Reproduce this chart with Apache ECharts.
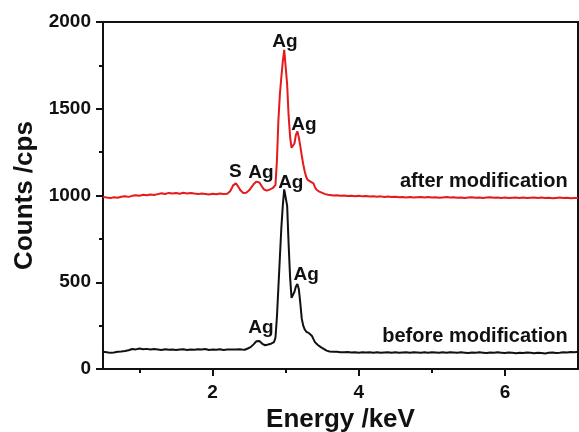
<!DOCTYPE html>
<html>
<head>
<meta charset="utf-8">
<script src="https://cdn.jsdelivr.net/npm/echarts@6/dist/echarts.min.js"></script>
<style>
  html, body { margin: 0; padding: 0; background: #fff; }
  #chart { width: 579px; height: 432px; }
</style>
</head>
<body>
<div id="chart"></div>
<script>
// energy axis samples (keV)
const energy = [
  0.50, 0.55, 0.60, 0.65, 0.70, 0.75, 0.80, 0.85, 0.90, 0.95,
  1.00, 1.05, 1.10, 1.15, 1.20, 1.25, 1.30, 1.35, 1.40, 1.45,
  1.50, 1.55, 1.60, 1.65, 1.70, 1.75, 1.80, 1.85, 1.90, 1.95,
  2.00, 2.05, 2.10, 2.15,
  2.20, 2.22, 2.24, 2.26, 2.28, 2.30, 2.32, 2.34, 2.36, 2.38,
  2.40, 2.42, 2.44, 2.46, 2.48, 2.50, 2.52, 2.54, 2.56, 2.58,
  2.60, 2.62, 2.64, 2.66, 2.68, 2.70, 2.72, 2.74, 2.76, 2.78,
  2.80, 2.82, 2.84, 2.86, 2.88, 2.90, 2.92, 2.94, 2.96, 2.98,
  3.00, 3.02, 3.04, 3.06, 3.08, 3.10, 3.12, 3.14, 3.16, 3.18,
  3.20, 3.22, 3.24, 3.26, 3.28, 3.30, 3.32, 3.34, 3.36, 3.38,
  3.40, 3.42, 3.44, 3.46, 3.48, 3.50, 3.52, 3.54, 3.56, 3.58,
  3.60, 3.65, 3.70, 3.75, 3.80, 3.85, 3.90, 3.95,
  4.00, 4.05, 4.10, 4.15, 4.20, 4.25, 4.30, 4.35, 4.40, 4.45,
  4.50, 4.55, 4.60, 4.65, 4.70, 4.75, 4.80, 4.85, 4.90, 4.95,
  5.00, 5.05, 5.10, 5.15, 5.20, 5.25, 5.30, 5.35, 5.40, 5.45,
  5.50, 5.55, 5.60, 5.65, 5.70, 5.75, 5.80, 5.85, 5.90, 5.95,
  6.00, 6.05, 6.10, 6.15, 6.20, 6.25, 6.30, 6.35, 6.40, 6.45,
  6.50, 6.55, 6.60, 6.65, 6.70, 6.75, 6.80, 6.85, 6.90, 6.95,
  7.00
]

// counts before modification (black)
const beforeCounts = [
  100, 97, 93, 95, 99, 101, 104, 108, 115, 113,
  118, 114, 116, 112, 115, 113, 110, 114, 111, 113,
  109, 112, 114, 110, 113, 111, 114, 112, 115, 110,
  113, 111, 114, 110,
  112, 109, 113, 110, 112, 109, 113, 111, 114, 110,
  112, 115, 111, 114, 118, 121, 126, 133, 142, 152,
  160, 164, 161, 153, 145, 140, 137, 138, 141, 143,
  146, 148, 155, 180, 300, 470, 640, 810, 940, 1035,
  1040, 940, 720, 530, 410, 415, 445, 475, 490, 460,
  380, 290, 250, 228, 216, 210, 206, 202, 190, 172,
  155, 145, 138, 132, 126, 121, 116, 112, 106, 102,
  101, 99, 100, 97, 96, 98, 95, 97,
  94, 96, 95, 97, 94, 96, 93, 95, 97, 94,
  96, 93, 95, 97, 94, 96, 95, 93, 96, 94,
  97, 95, 93, 96, 94, 97, 95, 93, 96, 94,
  92, 95, 93, 96, 94, 92, 95, 93, 96, 94,
  92, 95, 93, 91, 94, 92, 95, 93, 91, 94,
  92, 90, 93, 95, 92, 94, 97, 95, 98, 96,
  99
]

// counts after modification (red)
const afterCounts = [
  992, 988, 985, 990, 987, 993, 996, 992, 998, 1002,
  999, 1004, 1001, 1006, 1003, 1008, 1013, 1009, 1015, 1011,
  1014, 1010, 1016, 1012, 1015, 1011, 1008, 1012, 1009, 1006,
  1010, 1007, 1011, 1009,
  1010, 1015, 1025, 1040, 1058, 1068, 1070, 1060, 1045, 1030,
  1020, 1015, 1013, 1016, 1022, 1030, 1040, 1052, 1065, 1074,
  1080, 1081, 1075, 1062, 1048, 1036, 1030, 1028, 1030, 1034,
  1038, 1042, 1045, 1060, 1200, 1430, 1580, 1680, 1770, 1840,
  1845, 1640, 1460, 1340, 1275, 1265, 1300, 1350, 1370, 1335,
  1285, 1230, 1180, 1140, 1108, 1090, 1082, 1080, 1080, 1070,
  1048, 1035, 1028, 1022, 1018, 1015, 1012, 1008, 1006, 1004,
  1003, 1000, 1002, 998, 1000, 997, 999, 996,
  998, 995, 997, 994, 996, 993, 995, 992, 994, 991,
  993, 990, 992, 989, 991, 988, 990, 992, 989, 991,
  988, 990, 987, 989, 991, 988, 990, 987, 989, 986,
  988, 990, 987, 989, 986, 988, 990, 987, 989, 986,
  988, 985, 987, 989, 986, 988, 985, 987, 989, 986,
  988, 985, 987, 984, 986, 988, 985, 987, 984, 986,
  985
]

// axis ticks
const xTicks = [2, 4, 6]
const xMinorTicks = [1, 3, 5]

// peak annotations [text, energy, counts]
const afterLabels = [
  ['Ag', 2.99, 1886],
  ['Ag', 3.25, 1407],
  ['S', 2.31, 1136],
  ['Ag', 2.66, 1130]
]
const beforeLabels = [
  ['Ag', 3.07, 1073],
  ['Ag', 3.28, 542],
  ['Ag', 2.66, 236]
]
// trace names [text, energy of right end, counts]
const afterName = ['after modification', 6.86, 1078]
const beforeName = ['before modification', 6.86, 185]

const FONT = '"Liberation Sans", Arial, sans-serif'

function toPairs(ys) {
  return energy.map((e, i) => [e, ys[i]])
}

function markText(items, align, size) {
  return {
    symbol: 'circle',
    symbolSize: 0,
    silent: true,
    animation: false,
    label: {
      show: true,
      position: 'inside',
      align: align,
      verticalAlign: 'middle',
      color: '#111',
      fontFamily: FONT,
      fontWeight: 'bold',
      fontSize: size,
      formatter: p => p.name
    },
    data: items.map(d => ({ name: d[0], coord: [d[1], d[2]] }))
  }
}

const myChart = echarts.init(document.getElementById('chart'), null, { renderer: 'canvas' })
const axisText = { color: '#111', fontFamily: FONT, fontWeight: 'bold', fontSize: 19 }

const options = {
  backgroundColor: '#fff',
  animation: false,
  grid: {
    left: 103,
    right: 1,
    top: 22,
    bottom: 63,
    show: true,
    borderColor: '#111',
    borderWidth: 2,
    containLabel: false,
    outerBoundsMode: 'none'
  },
  xAxis: [
    {
      type: 'value',
      min: 0.5,
      max: 7,
      name: 'Energy /keV',
      nameLocation: 'middle',
      nameGap: 36,
      nameTextStyle: { color: '#111', fontFamily: FONT, fontWeight: 'bold', fontSize: 26 },
      axisLine: { show: true, lineStyle: { color: '#111', width: 2 } },
      axisTick: { show: true, customValues: xTicks, length: 7, lineStyle: { color: '#111', width: 2 } },
      axisLabel: Object.assign({ customValues: xTicks, margin: 14 }, axisText),
      splitLine: { show: false }
    },
    {
      type: 'value',
      min: 0.5,
      max: 7,
      position: 'bottom',
      axisLine: { show: false },
      axisTick: { show: true, customValues: xMinorTicks, length: 4, lineStyle: { color: '#111', width: 2 } },
      axisLabel: { show: false },
      splitLine: { show: false }
    }
  ],
  yAxis: {
    type: 'value',
    min: 0,
    max: 2000,
    interval: 500,
    name: 'Counts /cps',
    nameLocation: 'middle',
    nameGap: 64,
    nameTextStyle: { color: '#111', fontFamily: FONT, fontWeight: 'bold', fontSize: 26 },
    axisLine: { show: true, lineStyle: { color: '#111', width: 2 } },
    axisTick: { show: true, length: 7, lineStyle: { color: '#111', width: 2 } },
    minorTick: { show: true, splitNumber: 2, length: 4, lineStyle: { color: '#111', width: 2 } },
    axisLabel: Object.assign({ margin: 12, formatter: v => String(v) }, axisText),
    splitLine: { show: false },
    minorSplitLine: { show: false }
  },
  series: [
    {
      name: 'after modification',
      type: 'line',
      data: toPairs(afterCounts),
      showSymbol: false,
      lineStyle: { color: '#e41a1c', width: 2 },
      itemStyle: { color: '#e41a1c' }
    },
    {
      name: 'before modification',
      type: 'line',
      data: toPairs(beforeCounts),
      showSymbol: false,
      lineStyle: { color: '#111', width: 2 },
      itemStyle: { color: '#111' }
    },
    {
      type: 'scatter',
      data: [],
      markPoint: markText(afterLabels.concat(beforeLabels), 'center', 19)
    },
    {
      type: 'scatter',
      data: [],
      markPoint: markText([afterName, beforeName], 'right', 20)
    }
  ]
}
myChart.setOption(options)
</script>
</body>
</html>
